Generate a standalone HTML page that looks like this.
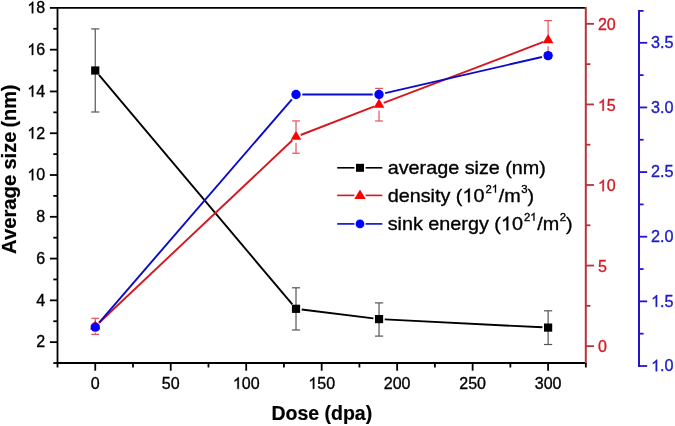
<!DOCTYPE html>
<html><head><meta charset="utf-8"><style>
html,body{margin:0;padding:0;background:#fff;width:675px;height:426px;overflow:hidden}
svg{display:block;font-family:"Liberation Sans",sans-serif;will-change:transform}
.h{fill-opacity:0;stroke-opacity:0}
</style></head><body>
<svg width="675" height="426" viewBox="0 0 675 426">
<rect width="675" height="426" fill="#fff"/>
<line x1="57.50" y1="7.00" x2="57.50" y2="363.90" stroke="#000" stroke-width="1.8" />
<line x1="56.60" y1="363.00" x2="585.80" y2="363.00" stroke="#000" stroke-width="1.8" />
<line x1="57.50" y1="7.90" x2="585.80" y2="7.90" stroke="#000" stroke-width="1.8" />
<line x1="585.80" y1="7.00" x2="585.80" y2="363.90" stroke="#b8323a" stroke-width="2.0" />
<line x1="639.00" y1="10.00" x2="639.00" y2="366.90" stroke="#2814c8" stroke-width="2.0" />
<line x1="95.25" y1="363.00" x2="95.25" y2="370.70" stroke="#000" stroke-width="1.8" />
<text x="95.25" y="388.80" font-size="16" fill="#000" stroke="#000" stroke-width="0.35" text-anchor="middle" font-weight="normal" >0</text>
<line x1="170.73" y1="363.00" x2="170.73" y2="370.70" stroke="#000" stroke-width="1.8" />
<text x="170.73" y="388.80" font-size="16" fill="#000" stroke="#000" stroke-width="0.35" text-anchor="middle" font-weight="normal" >50</text>
<line x1="246.20" y1="363.00" x2="246.20" y2="370.70" stroke="#000" stroke-width="1.8" />
<text x="246.20" y="388.80" font-size="16" fill="#000" stroke="#000" stroke-width="0.35" text-anchor="middle" font-weight="normal" ><tspan class="h">1</tspan>00</text>
<line x1="321.68" y1="363.00" x2="321.68" y2="370.70" stroke="#000" stroke-width="1.8" />
<text x="321.68" y="388.80" font-size="16" fill="#000" stroke="#000" stroke-width="0.35" text-anchor="middle" font-weight="normal" ><tspan class="h">1</tspan>50</text>
<line x1="397.15" y1="363.00" x2="397.15" y2="370.70" stroke="#000" stroke-width="1.8" />
<text x="397.15" y="388.80" font-size="16" fill="#000" stroke="#000" stroke-width="0.35" text-anchor="middle" font-weight="normal" >200</text>
<line x1="472.62" y1="363.00" x2="472.62" y2="370.70" stroke="#000" stroke-width="1.8" />
<text x="472.62" y="388.80" font-size="16" fill="#000" stroke="#000" stroke-width="0.35" text-anchor="middle" font-weight="normal" >250</text>
<line x1="548.10" y1="363.00" x2="548.10" y2="370.70" stroke="#000" stroke-width="1.8" />
<text x="548.10" y="388.80" font-size="16" fill="#000" stroke="#000" stroke-width="0.35" text-anchor="middle" font-weight="normal" >300</text>
<line x1="57.51" y1="363.00" x2="57.51" y2="367.50" stroke="#000" stroke-width="1.8" />
<line x1="132.99" y1="363.00" x2="132.99" y2="367.50" stroke="#000" stroke-width="1.8" />
<line x1="208.46" y1="363.00" x2="208.46" y2="367.50" stroke="#000" stroke-width="1.8" />
<line x1="283.94" y1="363.00" x2="283.94" y2="367.50" stroke="#000" stroke-width="1.8" />
<line x1="359.41" y1="363.00" x2="359.41" y2="367.50" stroke="#000" stroke-width="1.8" />
<line x1="434.89" y1="363.00" x2="434.89" y2="367.50" stroke="#000" stroke-width="1.8" />
<line x1="510.36" y1="363.00" x2="510.36" y2="367.50" stroke="#000" stroke-width="1.8" />
<line x1="585.84" y1="363.00" x2="585.84" y2="367.50" stroke="#000" stroke-width="1.8" />
<line x1="57.50" y1="342.14" x2="49.90" y2="342.14" stroke="#000" stroke-width="1.8" />
<text x="45.10" y="347.44" font-size="16" fill="#000" stroke="#000" stroke-width="0.35" text-anchor="end" font-weight="normal" >2</text>
<line x1="57.50" y1="300.36" x2="49.90" y2="300.36" stroke="#000" stroke-width="1.8" />
<text x="45.10" y="305.66" font-size="16" fill="#000" stroke="#000" stroke-width="0.35" text-anchor="end" font-weight="normal" >4</text>
<line x1="57.50" y1="258.58" x2="49.90" y2="258.58" stroke="#000" stroke-width="1.8" />
<text x="45.10" y="263.88" font-size="16" fill="#000" stroke="#000" stroke-width="0.35" text-anchor="end" font-weight="normal" >6</text>
<line x1="57.50" y1="216.80" x2="49.90" y2="216.80" stroke="#000" stroke-width="1.8" />
<text x="45.10" y="222.10" font-size="16" fill="#000" stroke="#000" stroke-width="0.35" text-anchor="end" font-weight="normal" >8</text>
<line x1="57.50" y1="175.02" x2="49.90" y2="175.02" stroke="#000" stroke-width="1.8" />
<text x="45.10" y="180.32" font-size="16" fill="#000" stroke="#000" stroke-width="0.35" text-anchor="end" font-weight="normal" ><tspan class="h">1</tspan>0</text>
<line x1="57.50" y1="133.24" x2="49.90" y2="133.24" stroke="#000" stroke-width="1.8" />
<text x="45.10" y="138.54" font-size="16" fill="#000" stroke="#000" stroke-width="0.35" text-anchor="end" font-weight="normal" ><tspan class="h">1</tspan>2</text>
<line x1="57.50" y1="91.46" x2="49.90" y2="91.46" stroke="#000" stroke-width="1.8" />
<text x="45.10" y="96.76" font-size="16" fill="#000" stroke="#000" stroke-width="0.35" text-anchor="end" font-weight="normal" ><tspan class="h">1</tspan>4</text>
<line x1="57.50" y1="49.68" x2="49.90" y2="49.68" stroke="#000" stroke-width="1.8" />
<text x="45.10" y="54.98" font-size="16" fill="#000" stroke="#000" stroke-width="0.35" text-anchor="end" font-weight="normal" ><tspan class="h">1</tspan>6</text>
<line x1="57.50" y1="7.90" x2="49.90" y2="7.90" stroke="#000" stroke-width="1.8" />
<text x="45.10" y="13.20" font-size="16" fill="#000" stroke="#000" stroke-width="0.35" text-anchor="end" font-weight="normal" ><tspan class="h">1</tspan>8</text>
<line x1="57.50" y1="363.03" x2="53.30" y2="363.03" stroke="#000" stroke-width="1.8" />
<line x1="57.50" y1="321.25" x2="53.30" y2="321.25" stroke="#000" stroke-width="1.8" />
<line x1="57.50" y1="279.47" x2="53.30" y2="279.47" stroke="#000" stroke-width="1.8" />
<line x1="57.50" y1="237.69" x2="53.30" y2="237.69" stroke="#000" stroke-width="1.8" />
<line x1="57.50" y1="195.91" x2="53.30" y2="195.91" stroke="#000" stroke-width="1.8" />
<line x1="57.50" y1="154.13" x2="53.30" y2="154.13" stroke="#000" stroke-width="1.8" />
<line x1="57.50" y1="112.35" x2="53.30" y2="112.35" stroke="#000" stroke-width="1.8" />
<line x1="57.50" y1="70.57" x2="53.30" y2="70.57" stroke="#000" stroke-width="1.8" />
<line x1="57.50" y1="28.79" x2="53.30" y2="28.79" stroke="#000" stroke-width="1.8" />
<line x1="585.80" y1="346.15" x2="594.00" y2="346.15" stroke="#b8323a" stroke-width="1.8" />
<text x="597.90" y="352.35" font-size="16" fill="#d41a22" stroke="#d41a22" stroke-width="0.35" text-anchor="start" font-weight="normal" >0</text>
<line x1="585.80" y1="265.57" x2="594.00" y2="265.57" stroke="#b8323a" stroke-width="1.8" />
<text x="597.90" y="271.77" font-size="16" fill="#d41a22" stroke="#d41a22" stroke-width="0.35" text-anchor="start" font-weight="normal" >5</text>
<line x1="585.80" y1="185.00" x2="594.00" y2="185.00" stroke="#b8323a" stroke-width="1.8" />
<text x="597.90" y="191.20" font-size="16" fill="#d41a22" stroke="#d41a22" stroke-width="0.35" text-anchor="start" font-weight="normal" ><tspan class="h">1</tspan>0</text>
<line x1="585.80" y1="104.43" x2="594.00" y2="104.43" stroke="#b8323a" stroke-width="1.8" />
<text x="597.90" y="110.63" font-size="16" fill="#d41a22" stroke="#d41a22" stroke-width="0.35" text-anchor="start" font-weight="normal" ><tspan class="h">1</tspan>5</text>
<line x1="585.80" y1="23.85" x2="594.00" y2="23.85" stroke="#b8323a" stroke-width="1.8" />
<text x="597.90" y="30.05" font-size="16" fill="#d41a22" stroke="#d41a22" stroke-width="0.35" text-anchor="start" font-weight="normal" >20</text>
<line x1="585.80" y1="305.86" x2="590.40" y2="305.86" stroke="#b8323a" stroke-width="1.8" />
<line x1="585.80" y1="225.29" x2="590.40" y2="225.29" stroke="#b8323a" stroke-width="1.8" />
<line x1="585.80" y1="144.71" x2="590.40" y2="144.71" stroke="#b8323a" stroke-width="1.8" />
<line x1="585.80" y1="64.14" x2="590.40" y2="64.14" stroke="#b8323a" stroke-width="1.8" />
<line x1="639.00" y1="366.00" x2="647.20" y2="366.00" stroke="#2814c8" stroke-width="1.8" />
<text x="651.10" y="371.30" font-size="16.2" fill="#1c1cc8" stroke="#1c1cc8" stroke-width="0.35" text-anchor="start" font-weight="normal" ><tspan class="h">1</tspan>.0</text>
<line x1="639.00" y1="301.36" x2="647.20" y2="301.36" stroke="#2814c8" stroke-width="1.8" />
<text x="651.10" y="306.66" font-size="16.2" fill="#1c1cc8" stroke="#1c1cc8" stroke-width="0.35" text-anchor="start" font-weight="normal" ><tspan class="h">1</tspan>.5</text>
<line x1="639.00" y1="236.72" x2="647.20" y2="236.72" stroke="#2814c8" stroke-width="1.8" />
<text x="651.10" y="242.02" font-size="16.2" fill="#1c1cc8" stroke="#1c1cc8" stroke-width="0.35" text-anchor="start" font-weight="normal" >2.0</text>
<line x1="639.00" y1="172.08" x2="647.20" y2="172.08" stroke="#2814c8" stroke-width="1.8" />
<text x="651.10" y="177.38" font-size="16.2" fill="#1c1cc8" stroke="#1c1cc8" stroke-width="0.35" text-anchor="start" font-weight="normal" >2.5</text>
<line x1="639.00" y1="107.44" x2="647.20" y2="107.44" stroke="#2814c8" stroke-width="1.8" />
<text x="651.10" y="112.74" font-size="16.2" fill="#1c1cc8" stroke="#1c1cc8" stroke-width="0.35" text-anchor="start" font-weight="normal" >3.0</text>
<line x1="639.00" y1="42.80" x2="647.20" y2="42.80" stroke="#2814c8" stroke-width="1.8" />
<text x="651.10" y="48.10" font-size="16.2" fill="#1c1cc8" stroke="#1c1cc8" stroke-width="0.35" text-anchor="start" font-weight="normal" >3.5</text>
<line x1="639.00" y1="333.68" x2="643.60" y2="333.68" stroke="#2814c8" stroke-width="1.8" />
<line x1="639.00" y1="269.04" x2="643.60" y2="269.04" stroke="#2814c8" stroke-width="1.8" />
<line x1="639.00" y1="204.40" x2="643.60" y2="204.40" stroke="#2814c8" stroke-width="1.8" />
<line x1="639.00" y1="139.76" x2="643.60" y2="139.76" stroke="#2814c8" stroke-width="1.8" />
<line x1="639.00" y1="75.12" x2="643.60" y2="75.12" stroke="#2814c8" stroke-width="1.8" />
<line x1="638.00" y1="10.90" x2="643.60" y2="10.90" stroke="#2814c8" stroke-width="1.8" />
<text x="321.80" y="420.20" font-size="19.5" fill="#000" stroke="#000" stroke-width="0.2" text-anchor="middle" font-weight="bold" >Dose (dpa)</text>
<text transform="translate(16,254.0) rotate(-90)" x="0" y="0" font-size="20.3" font-weight="bold" fill="#000" stroke="#000" stroke-width="0.2">Average</text>
<text transform="translate(16,169.6) rotate(-90)" x="0" y="0" font-size="20.1" font-weight="bold" fill="#000" stroke="#000" stroke-width="0.2">size</text>
<text transform="translate(16,127.6) rotate(-90)" x="0" y="0" font-size="19.9" font-weight="bold" fill="#000" stroke="#000" stroke-width="0.2">(nm)</text>
<line x1="95.25" y1="28.90" x2="95.25" y2="112.00" stroke="#555" stroke-width="1.2" />
<line x1="91.15" y1="28.90" x2="99.35" y2="28.90" stroke="#555" stroke-width="1.2" />
<line x1="91.15" y1="112.00" x2="99.35" y2="112.00" stroke="#555" stroke-width="1.2" />
<line x1="296.01" y1="287.80" x2="296.01" y2="330.00" stroke="#555" stroke-width="1.2" />
<line x1="291.91" y1="287.80" x2="300.11" y2="287.80" stroke="#555" stroke-width="1.2" />
<line x1="291.91" y1="330.00" x2="300.11" y2="330.00" stroke="#555" stroke-width="1.2" />
<line x1="379.04" y1="302.90" x2="379.04" y2="336.10" stroke="#555" stroke-width="1.2" />
<line x1="374.94" y1="302.90" x2="383.14" y2="302.90" stroke="#555" stroke-width="1.2" />
<line x1="374.94" y1="336.10" x2="383.14" y2="336.10" stroke="#555" stroke-width="1.2" />
<line x1="548.10" y1="310.80" x2="548.10" y2="344.50" stroke="#555" stroke-width="1.2" />
<line x1="544.00" y1="310.80" x2="552.20" y2="310.80" stroke="#555" stroke-width="1.2" />
<line x1="544.00" y1="344.50" x2="552.20" y2="344.50" stroke="#555" stroke-width="1.2" />
<line x1="98.92" y1="74.86" x2="292.34" y2="304.44" stroke="#000" stroke-width="1.9" />
<line x1="301.67" y1="309.50" x2="373.38" y2="318.40" stroke="#000" stroke-width="1.9" />
<line x1="384.73" y1="319.39" x2="542.41" y2="327.31" stroke="#000" stroke-width="1.9" />
<rect x="91.15" y="66.40" width="8.2" height="8.2" fill="#000"/>
<rect x="291.91" y="304.70" width="8.2" height="8.2" fill="#000"/>
<rect x="374.94" y="315.00" width="8.2" height="8.2" fill="#000"/>
<rect x="544.00" y="323.50" width="8.2" height="8.2" fill="#000"/>
<line x1="95.25" y1="318.30" x2="95.25" y2="320.90" stroke="#e2545e" stroke-width="1.2" />
<line x1="95.25" y1="332.40" x2="95.25" y2="334.40" stroke="#e2545e" stroke-width="1.2" />
<line x1="91.35" y1="318.30" x2="99.15" y2="318.30" stroke="#e2545e" stroke-width="1.2" />
<line x1="91.35" y1="334.40" x2="99.15" y2="334.40" stroke="#e2545e" stroke-width="1.2" />
<line x1="296.01" y1="120.90" x2="296.01" y2="131.30" stroke="#e2545e" stroke-width="1.2" />
<line x1="296.01" y1="142.80" x2="296.01" y2="153.20" stroke="#e2545e" stroke-width="1.2" />
<line x1="292.11" y1="120.90" x2="299.91" y2="120.90" stroke="#e2545e" stroke-width="1.2" />
<line x1="292.11" y1="153.20" x2="299.91" y2="153.20" stroke="#e2545e" stroke-width="1.2" />
<line x1="379.04" y1="88.40" x2="379.04" y2="99.10" stroke="#e2545e" stroke-width="1.2" />
<line x1="379.04" y1="110.60" x2="379.04" y2="121.00" stroke="#e2545e" stroke-width="1.2" />
<line x1="375.14" y1="88.40" x2="382.94" y2="88.40" stroke="#e2545e" stroke-width="1.2" />
<line x1="375.14" y1="121.00" x2="382.94" y2="121.00" stroke="#e2545e" stroke-width="1.2" />
<line x1="548.10" y1="20.60" x2="548.10" y2="34.70" stroke="#e2545e" stroke-width="1.2" />
<line x1="548.10" y1="46.20" x2="548.10" y2="58.40" stroke="#e2545e" stroke-width="1.2" />
<line x1="544.20" y1="20.60" x2="552.00" y2="20.60" stroke="#e2545e" stroke-width="1.2" />
<line x1="544.20" y1="58.40" x2="552.00" y2="58.40" stroke="#e2545e" stroke-width="1.2" />
<line x1="98.89" y1="322.97" x2="292.38" y2="140.23" stroke="#d41820" stroke-width="1.9" />
<line x1="300.68" y1="134.99" x2="374.37" y2="106.41" stroke="#d41820" stroke-width="1.9" />
<line x1="383.71" y1="102.82" x2="543.43" y2="41.98" stroke="#d41820" stroke-width="1.9" />
<polygon points="95.25,320.27 100.55,329.47 89.95,329.47" fill="#ff0000"/>
<polygon points="296.01,130.67 301.31,139.87 290.71,139.87" fill="#ff0000"/>
<polygon points="379.04,98.47 384.34,107.67 373.74,107.67" fill="#ff0000"/>
<polygon points="548.10,34.07 553.40,43.27 542.80,43.27" fill="#ff0000"/>
<line x1="99.37" y1="322.33" x2="291.90" y2="99.27" stroke="#0a0ac8" stroke-width="1.9" />
<line x1="302.31" y1="94.50" x2="372.74" y2="94.50" stroke="#0a0ac8" stroke-width="1.9" />
<line x1="385.18" y1="93.09" x2="541.96" y2="57.01" stroke="#0a0ac8" stroke-width="1.9" />
<circle cx="95.25" cy="327.10" r="4.7" fill="#0000ff"/>
<circle cx="296.01" cy="94.50" r="4.7" fill="#0000ff"/>
<circle cx="379.04" cy="94.50" r="4.7" fill="#0000ff"/>
<circle cx="548.10" cy="55.60" r="4.7" fill="#0000ff"/>
<line x1="337.20" y1="167.80" x2="354.40" y2="167.80" stroke="#000" stroke-width="1.6" />
<line x1="365.60" y1="167.80" x2="382.30" y2="167.80" stroke="#000" stroke-width="1.6" />
<line x1="337.20" y1="195.40" x2="354.40" y2="195.40" stroke="#d41820" stroke-width="1.6" />
<line x1="365.60" y1="195.40" x2="382.30" y2="195.40" stroke="#d41820" stroke-width="1.6" />
<line x1="337.20" y1="223.90" x2="354.40" y2="223.90" stroke="#0a0ac8" stroke-width="1.6" />
<line x1="365.60" y1="223.90" x2="382.30" y2="223.90" stroke="#0a0ac8" stroke-width="1.6" />
<rect x="356.00" y="163.80" width="8" height="8" fill="#000"/>
<polygon points="360.00,189.53 365.70,198.93 354.30,198.93" fill="#ff0000"/>
<circle cx="360.00" cy="223.90" r="4.4" fill="#0000ff"/>
<text transform="translate(387.7,174.2) scale(1.03,1)" x="0" y="0" font-size="19.2" fill="#000" stroke="#000" stroke-width="0.35">average size (nm)</text>
<text transform="translate(387.7,202.2) scale(1.03,1)" x="0" y="0" font-size="19.2" fill="#000" stroke="#000" stroke-width="0.35">density (<tspan class="h">1</tspan>0<tspan dx="1" dy="-9.6" font-size="11">2<tspan class="h">1</tspan></tspan><tspan dx="0.6" dy="9.6">/m</tspan><tspan dx="0.6" dy="-9.6" font-size="11">3</tspan><tspan dx="0" dy="9.6">)</tspan></text>
<text transform="translate(387.7,230.3) scale(1.03,1)" x="0" y="0" font-size="19.2" fill="#000" stroke="#000" stroke-width="0.35">sink energy (<tspan class="h">1</tspan>0<tspan dx="1" dy="-9.6" font-size="11">2<tspan class="h">1</tspan></tspan><tspan dx="0.6" dy="9.6">/m</tspan><tspan dx="0.6" dy="-9.6" font-size="11">2</tspan><tspan dx="0" dy="9.6">)</tspan></text>
<path transform="translate(232.848,388.800) scale(0.00781,-0.00781)" d="M763,0L583,0L583,1147Q518,1085 412.5,1023Q307,961 223,930L223,1104Q374,1175 487,1276Q600,1377 647,1472L763,1472Z" fill="#000" stroke="#000" stroke-width="44.80"/>
<path transform="translate(308.328,388.800) scale(0.00781,-0.00781)" d="M763,0L583,0L583,1147Q518,1085 412.5,1023Q307,961 223,930L223,1104Q374,1175 487,1276Q600,1377 647,1472L763,1472Z" fill="#000" stroke="#000" stroke-width="44.80"/>
<path transform="translate(27.287,180.320) scale(0.00781,-0.00781)" d="M763,0L583,0L583,1147Q518,1085 412.5,1023Q307,961 223,930L223,1104Q374,1175 487,1276Q600,1377 647,1472L763,1472Z" fill="#000" stroke="#000" stroke-width="44.80"/>
<path transform="translate(27.287,138.540) scale(0.00781,-0.00781)" d="M763,0L583,0L583,1147Q518,1085 412.5,1023Q307,961 223,930L223,1104Q374,1175 487,1276Q600,1377 647,1472L763,1472Z" fill="#000" stroke="#000" stroke-width="44.80"/>
<path transform="translate(27.287,96.760) scale(0.00781,-0.00781)" d="M763,0L583,0L583,1147Q518,1085 412.5,1023Q307,961 223,930L223,1104Q374,1175 487,1276Q600,1377 647,1472L763,1472Z" fill="#000" stroke="#000" stroke-width="44.80"/>
<path transform="translate(27.287,54.980) scale(0.00781,-0.00781)" d="M763,0L583,0L583,1147Q518,1085 412.5,1023Q307,961 223,930L223,1104Q374,1175 487,1276Q600,1377 647,1472L763,1472Z" fill="#000" stroke="#000" stroke-width="44.80"/>
<path transform="translate(27.287,13.200) scale(0.00781,-0.00781)" d="M763,0L583,0L583,1147Q518,1085 412.5,1023Q307,961 223,930L223,1104Q374,1175 487,1276Q600,1377 647,1472L763,1472Z" fill="#000" stroke="#000" stroke-width="44.80"/>
<path transform="translate(597.900,191.200) scale(0.00781,-0.00781)" d="M763,0L583,0L583,1147Q518,1085 412.5,1023Q307,961 223,930L223,1104Q374,1175 487,1276Q600,1377 647,1472L763,1472Z" fill="#d41a22" stroke="#d41a22" stroke-width="44.80"/>
<path transform="translate(597.900,110.630) scale(0.00781,-0.00781)" d="M763,0L583,0L583,1147Q518,1085 412.5,1023Q307,961 223,930L223,1104Q374,1175 487,1276Q600,1377 647,1472L763,1472Z" fill="#d41a22" stroke="#d41a22" stroke-width="44.80"/>
<path transform="translate(651.100,371.300) scale(0.00791,-0.00791)" d="M763,0L583,0L583,1147Q518,1085 412.5,1023Q307,961 223,930L223,1104Q374,1175 487,1276Q600,1377 647,1472L763,1472Z" fill="#1c1cc8" stroke="#1c1cc8" stroke-width="44.25"/>
<path transform="translate(651.100,306.660) scale(0.00791,-0.00791)" d="M763,0L583,0L583,1147Q518,1085 412.5,1023Q307,961 223,930L223,1104Q374,1175 487,1276Q600,1377 647,1472L763,1472Z" fill="#1c1cc8" stroke="#1c1cc8" stroke-width="44.25"/>
<path transform="translate(387.7,202.2) scale(1.03,1) translate(72.544,0.000) scale(0.00937,-0.00937)" d="M763,0L583,0L583,1147Q518,1085 412.5,1023Q307,961 223,930L223,1104Q374,1175 487,1276Q600,1377 647,1472L763,1472Z" fill="#000" stroke="#000" stroke-width="37.33"/>
<path transform="translate(387.7,202.2) scale(1.03,1) translate(101.035,-9.600) scale(0.00537,-0.00537)" d="M763,0L583,0L583,1147Q518,1085 412.5,1023Q307,961 223,930L223,1104Q374,1175 487,1276Q600,1377 647,1472L763,1472Z" fill="#000" stroke="#000" stroke-width="65.16"/>
<path transform="translate(387.7,230.3) scale(1.03,1) translate(109.886,0.000) scale(0.00937,-0.00937)" d="M763,0L583,0L583,1147Q518,1085 412.5,1023Q307,961 223,930L223,1104Q374,1175 487,1276Q600,1377 647,1472L763,1472Z" fill="#000" stroke="#000" stroke-width="37.33"/>
<path transform="translate(387.7,230.3) scale(1.03,1) translate(138.377,-9.600) scale(0.00537,-0.00537)" d="M763,0L583,0L583,1147Q518,1085 412.5,1023Q307,961 223,930L223,1104Q374,1175 487,1276Q600,1377 647,1472L763,1472Z" fill="#000" stroke="#000" stroke-width="65.16"/>
</svg>
</body></html>
